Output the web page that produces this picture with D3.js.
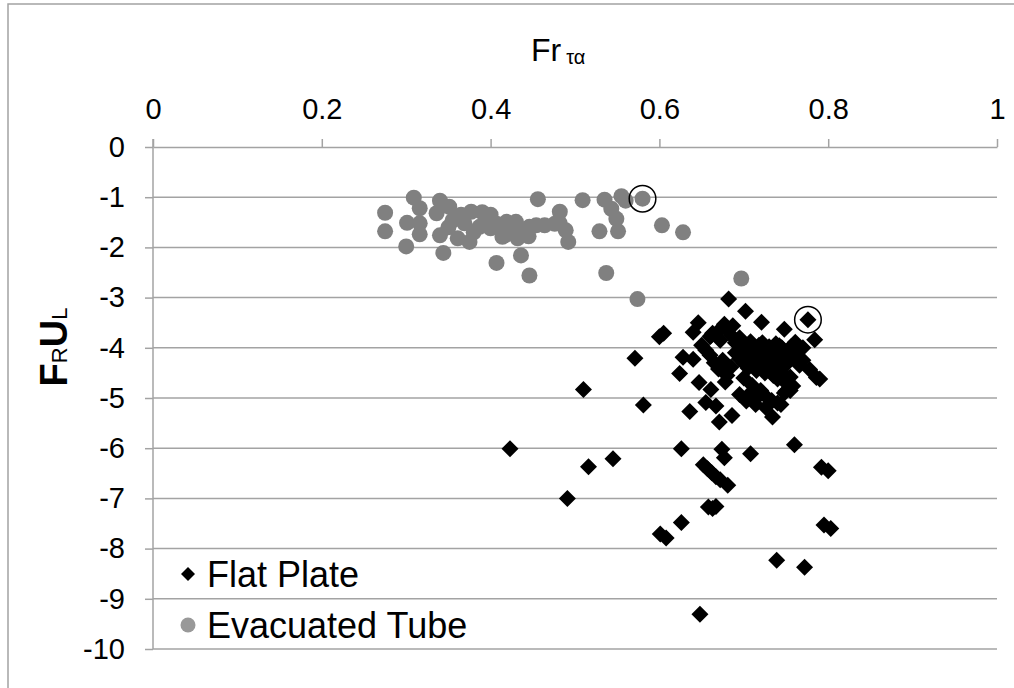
<!DOCTYPE html>
<html>
<head>
<meta charset="utf-8">
<script src="https://cdn.jsdelivr.net/npm/d3@7"></script>
<style>
  html, body { margin: 0; padding: 0; background: #fff; }
  svg { display: block; font-family: "Liberation Sans", Arial, sans-serif; }
</style>
</head>
<body>
<svg id="chart" width="1014" height="688"></svg>
<script>
// ---------- DATA ----------
const xTicks = [0, 0.2, 0.4, 0.6, 0.8, 1];
const xTickLabels = ["0", "0.2", "0.4", "0.6", "0.8", "1"];
const yTicks = [0, -1, -2, -3, -4, -5, -6, -7, -8, -9, -10];
const yTickLabels = ["0", "-1", "-2", "-3", "-4", "-5", "-6", "-7", "-8", "-9", "-10"];
const seriesNames = ["Flat Plate", "Evacuated Tube"];

// Flat Plate: [Fr τα, FrUL]
const flatPlate = [
  [0.423,-6.01],[0.491,-7.00],[0.510,-4.83],[0.516,-6.37],[0.545,-6.21],
  [0.571,-4.21],[0.581,-5.14],[0.600,-3.78],[0.605,-3.71],[0.601,-7.71],
  [0.608,-7.79],[0.626,-7.48],[0.626,-6.01],[0.624,-4.51],[0.628,-4.19],
  [0.636,-5.27],[0.640,-3.69],[0.646,-3.50],[0.640,-4.23],[0.647,-4.69],
  [0.648,-9.31],[0.652,-6.33],[0.657,-6.41],[0.662,-6.49],[0.667,-6.57],
  [0.672,-6.63],[0.681,-6.74],[0.658,-7.17],[0.663,-7.20],[0.667,-7.16],
  [0.674,-6.02],[0.677,-6.19],[0.708,-6.11],[0.760,-5.93],[0.739,-8.23],
  [0.772,-8.37],[0.792,-6.38],[0.800,-6.45],[0.795,-7.53],[0.803,-7.60],
  [0.655,-5.09],[0.667,-5.16],[0.661,-4.83],[0.671,-5.48],[0.686,-5.35],
  [0.734,-5.38],[0.744,-5.13],[0.726,-5.19],[0.714,-5.13],[0.703,-5.06],
  [0.695,-4.93],[0.708,-4.93],[0.750,-4.86],[0.758,-4.76],[0.778,-4.43],
  [0.786,-4.59],[0.790,-4.62],[0.784,-3.84],[0.776,-3.44],[0.748,-3.63],
  [0.721,-3.49],[0.702,-3.27],[0.682,-3.03],[0.661,-3.76],[0.675,-3.59],
  [0.687,-3.56],[0.663,-3.71],[0.677,-3.53],[0.761,-3.89],[0.754,-4.03],
  [0.742,-3.96],
  [0.660,-3.78],[0.668,-3.70],[0.672,-3.85],[0.680,-3.62],[0.685,-3.75],
  [0.690,-3.90],[0.695,-3.80],[0.700,-3.95],[0.705,-4.05],[0.708,-3.88],
  [0.712,-4.00],[0.715,-4.12],[0.718,-3.95],[0.720,-4.08],[0.722,-4.20],
  [0.725,-4.02],[0.728,-4.15],[0.730,-3.98],[0.732,-4.25],[0.735,-4.10],
  [0.738,-3.92],[0.740,-4.05],[0.742,-4.20],[0.745,-4.00],[0.748,-4.12],
  [0.752,-4.08],[0.756,-3.98],[0.760,-4.15],[0.765,-4.05],[0.770,-4.00],
  [0.690,-4.10],[0.695,-4.22],[0.700,-4.30],[0.705,-4.40],[0.710,-4.28],
  [0.715,-4.45],[0.720,-4.35],[0.725,-4.50],[0.730,-4.40],[0.735,-4.55],
  [0.740,-4.62],[0.745,-4.48],[0.750,-4.70],[0.755,-4.58],[0.660,-4.15],
  [0.665,-4.30],[0.670,-4.42],[0.675,-4.25],[0.680,-4.55],[0.685,-4.38],
  [0.678,-4.68],[0.700,-4.60],[0.710,-4.75],[0.720,-4.85],[0.725,-4.95],
  [0.733,-5.05],[0.740,-5.10],[0.748,-4.90],[0.755,-4.85],[0.705,-4.95],
  [0.715,-5.00],[0.650,-3.95],[0.655,-4.05],[0.770,-4.25],[0.766,-4.35],
  [0.712,-4.18],[0.718,-4.25],[0.726,-4.30],[0.734,-4.18],[0.744,-4.30],
  [0.705,-4.18],[0.722,-3.90],[0.738,-4.35],[0.752,-4.30],[0.698,-4.12]
];

// Evacuated Tube: [Fr τα, FrUL]
const evacuatedTube = [
  [0.275,-1.31],[0.275,-1.68],[0.309,-1.01],[0.316,-1.22],[0.301,-1.51],
  [0.316,-1.74],[0.300,-1.98],[0.340,-1.07],[0.351,-1.19],[0.336,-1.32],
  [0.340,-1.76],[0.344,-2.11],[0.355,-1.46],[0.361,-1.82],[0.375,-1.89],
  [0.377,-1.29],[0.369,-1.52],[0.387,-1.59],[0.397,-1.42],[0.407,-1.53],
  [0.417,-1.76],[0.419,-1.49],[0.430,-1.49],[0.432,-1.82],[0.436,-2.16],
  [0.407,-2.31],[0.446,-2.56],[0.446,-1.59],[0.456,-1.04],[0.509,-1.06],
  [0.535,-1.05],[0.555,-0.98],[0.560,-1.07],[0.580,-1.03],[0.543,-1.23],
  [0.549,-1.43],[0.551,-1.68],[0.529,-1.68],[0.603,-1.56],[0.628,-1.70],
  [0.482,-1.29],[0.482,-1.52],[0.489,-1.66],[0.492,-1.89],[0.454,-1.56],
  [0.464,-1.56],[0.476,-1.53],[0.414,-1.79],[0.537,-2.51],[0.574,-3.03],
  [0.697,-2.62],[0.316,-1.52],[0.350,-1.60],[0.365,-1.35],[0.390,-1.30],
  [0.380,-1.70],[0.400,-1.62],[0.420,-1.62],[0.428,-1.70],[0.400,-1.35],
  [0.440,-1.70],[0.445,-1.78]
];

// highlighted points (ringed in the reference)
const highlights = [[0.580,-1.03],[0.776,-3.44]];

// ---------- LAYOUT ----------
const svg = d3.select("#chart");
const x = d3.scaleLinear().domain([0, 1]).range([153, 997]);
const y = d3.scaleLinear().domain([0, -10]).range([147, 649]);
const gridColor = "#a3a3a3";
const fontFam = "'Liberation Sans', Arial, sans-serif";

// outer frame (extends beyond the visible area at right/bottom)
svg.append("rect")
  .attr("x", 8).attr("y", 4).attr("width", 1020).attr("height", 700)
  .attr("fill", "none").attr("stroke", gridColor).attr("stroke-width", 1.5);

// gridlines
svg.append("g").selectAll("line")
  .data(yTicks.filter(d => d !== 0))
  .join("line")
  .attr("x1", x(0)).attr("x2", x(1))
  .attr("y1", d => y(d)).attr("y2", d => y(d))
  .attr("stroke", gridColor).attr("stroke-width", 1.5);

// x axis (top, at y = 0)
const xAxis = svg.append("g")
  .attr("transform", `translate(0,${y(0)})`)
  .call(d3.axisTop(x).tickValues(xTicks).tickFormat((d, i) => xTickLabels[i])
    .tickSize(8).tickSizeOuter(0).tickPadding(20));
xAxis.select(".domain").attr("stroke", gridColor).attr("stroke-width", 1.5);
xAxis.selectAll(".tick line").attr("stroke", gridColor).attr("stroke-width", 1.5);
xAxis.selectAll(".tick text").attr("fill", "#000").attr("font-size", 29).attr("font-family", fontFam);

// y axis
const yAxis = svg.append("g")
  .attr("transform", `translate(${x(0)},0)`)
  .call(d3.axisLeft(y).tickValues(yTicks).tickFormat((d, i) => yTickLabels[i])
    .tickSize(8).tickSizeOuter(0).tickPadding(20));
yAxis.select(".domain").attr("stroke", gridColor).attr("stroke-width", 1.5)
  .attr("d", `M0,${y(0) - 8}V${y(-10)}`);
yAxis.selectAll(".tick line").attr("stroke", gridColor).attr("stroke-width", 1.5);
yAxis.selectAll(".tick text").attr("fill", "#000").attr("font-size", 29).attr("font-family", fontFam);

// axis titles
const xt = svg.append("text").attr("x", 531).attr("y", 61)
  .attr("font-size", 32).attr("fill", "#000");
xt.append("tspan").text("Fr");
xt.append("tspan").attr("dx", 5).attr("dy", 3).attr("font-size", 20).text("τα");

const yt = svg.append("text")
  .attr("transform", "translate(67,347) rotate(-90)")
  .attr("text-anchor", "middle").attr("font-size", 38).attr("font-weight", "bold").attr("fill", "#000");
yt.append("tspan").text("F");
yt.append("tspan").attr("font-size", 22).attr("font-weight", "normal").text("R");
yt.append("tspan").text("U");
yt.append("tspan").attr("font-size", 22).attr("font-weight", "normal").text("L");

// marks
const diamond = h => `M0,${-h}L${h},0L0,${h}L${-h},0Z`;
svg.append("g").selectAll("path")
  .data(flatPlate).join("path")
  .attr("d", diamond(8.5))
  .attr("transform", d => `translate(${x(d[0])},${y(d[1])})`)
  .attr("fill", "#000");

svg.append("g").selectAll("circle")
  .data(evacuatedTube).join("circle")
  .attr("cx", d => x(d[0])).attr("cy", d => y(d[1])).attr("r", 8)
  .attr("fill", "#808080");

svg.append("g").selectAll("circle")
  .data(highlights).join("circle")
  .attr("cx", d => x(d[0])).attr("cy", d => y(d[1])).attr("r", 13.3)
  .attr("fill", "none").attr("stroke", "#000").attr("stroke-width", 1.5);

// legend
const legend = svg.append("g");
const items = legend.selectAll("g").data(seriesNames).join("g")
  .attr("transform", (d, i) => `translate(188,${574 + i * 51})`);
items.filter((d, i) => i === 0).append("path").attr("d", diamond(7)).attr("fill", "#000");
items.filter((d, i) => i === 1).append("circle").attr("r", 7.5).attr("fill", "#999");
items.append("text").attr("x", 19).attr("y", 13).attr("font-size", 36).attr("fill", "#000").text(d => d);
</script>
</body>
</html>
